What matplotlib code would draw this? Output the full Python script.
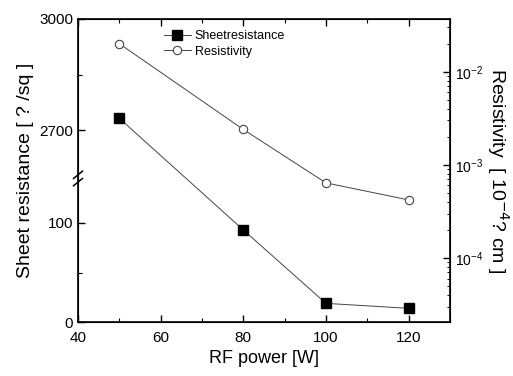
import numpy as np
import matplotlib.pyplot as plt

plt.rcParams['font.family'] = ['Liberation Sans', 'DejaVu Sans']

rf_power = [50, 80, 100, 120]
sheet_res = [2732, 93, 19, 14]
resistivity = [2.0e-2, 2.4e-3, 6.4e-4, 4.2e-4]

# broken left axis: lower part 0..B1 kept as is, upper part compressed
B1, B2, R = 153.0, 2592.0, 0.374


def fwd(y):
    y = np.asarray(y, dtype=float)
    return np.where(y <= B1, y, B1 + (y - B2) * R)


def inv(u):
    u = np.asarray(u, dtype=float)
    return np.where(u <= B1, u, B2 + (u - B1) / R)


fig = plt.figure(figsize=(5.13, 3.76), dpi=100)
ax = fig.add_axes([0.152, 0.143, 0.725, 0.807])
ax.set_yscale('function', functions=(fwd, inv))
ax.set_xlim(40, 130)
ax.set_ylim(0, 3000)

l1, = ax.plot(rf_power, sheet_res, color='#444444', lw=0.7, marker='s',
              ms=7, mfc='black', mec='black')
ax.set_yticks([0, 100, 2700, 3000])
ax.set_yticks([50, 2850], minor=True)
ax.set_yticklabels(['0', '100', '2700', '3000'])
ax.set_xticks([40, 60, 80, 100, 120])
ax.set_xticks([50, 70, 90, 110, 130], minor=True)
ax.tick_params(which='both', direction='in', top=True, labelsize=11)
ax.tick_params(axis='x', pad=6)
ax.tick_params(which='major', length=5, width=1)
ax.tick_params(which='minor', length=3, width=0.8)
for s in ax.spines.values():
    s.set_linewidth(1.2)

ax.set_xlabel('RF power [W]', fontsize=13)
ax.set_ylabel('Sheet resistance [ ? /sq ]', fontsize=14, labelpad=4)

# axis break marks
yb = fwd(2570) / fwd(3000)
for dy in (-0.012, 0.012):
    ax.plot([-0.012, 0.012], [yb + dy - 0.012, yb + dy + 0.012],
            transform=ax.transAxes, color='black', lw=1.1, clip_on=False)

ax2 = ax.twinx()
ax2.set_yscale('log')
ax2.set_ylim(2.04e-5, 3.7e-2)
l2, = ax2.plot(rf_power, resistivity, color='#444444', lw=0.7, marker='o',
               ms=6, mfc='white', mec='#444444', mew=0.8)
ax2.tick_params(which='both', direction='in', labelsize=10)
ax2.tick_params(which='major', length=5, width=1)
ax2.tick_params(which='minor', length=2.5, width=0.7)
ax2.set_ylabel('Resistivity  [ 10$^{-4}$? cm ]', fontsize=14, rotation=270,
               labelpad=20)

ax.legend([l1, l2], ['Sheetresistance', 'Resistivity'], loc='upper left',
          bbox_to_anchor=(0.2, 1.0), frameon=False, fontsize=9,
          handlelength=2.2, handletextpad=0.3, labelspacing=0.3)

fig.savefig('out.png', dpi=100)
